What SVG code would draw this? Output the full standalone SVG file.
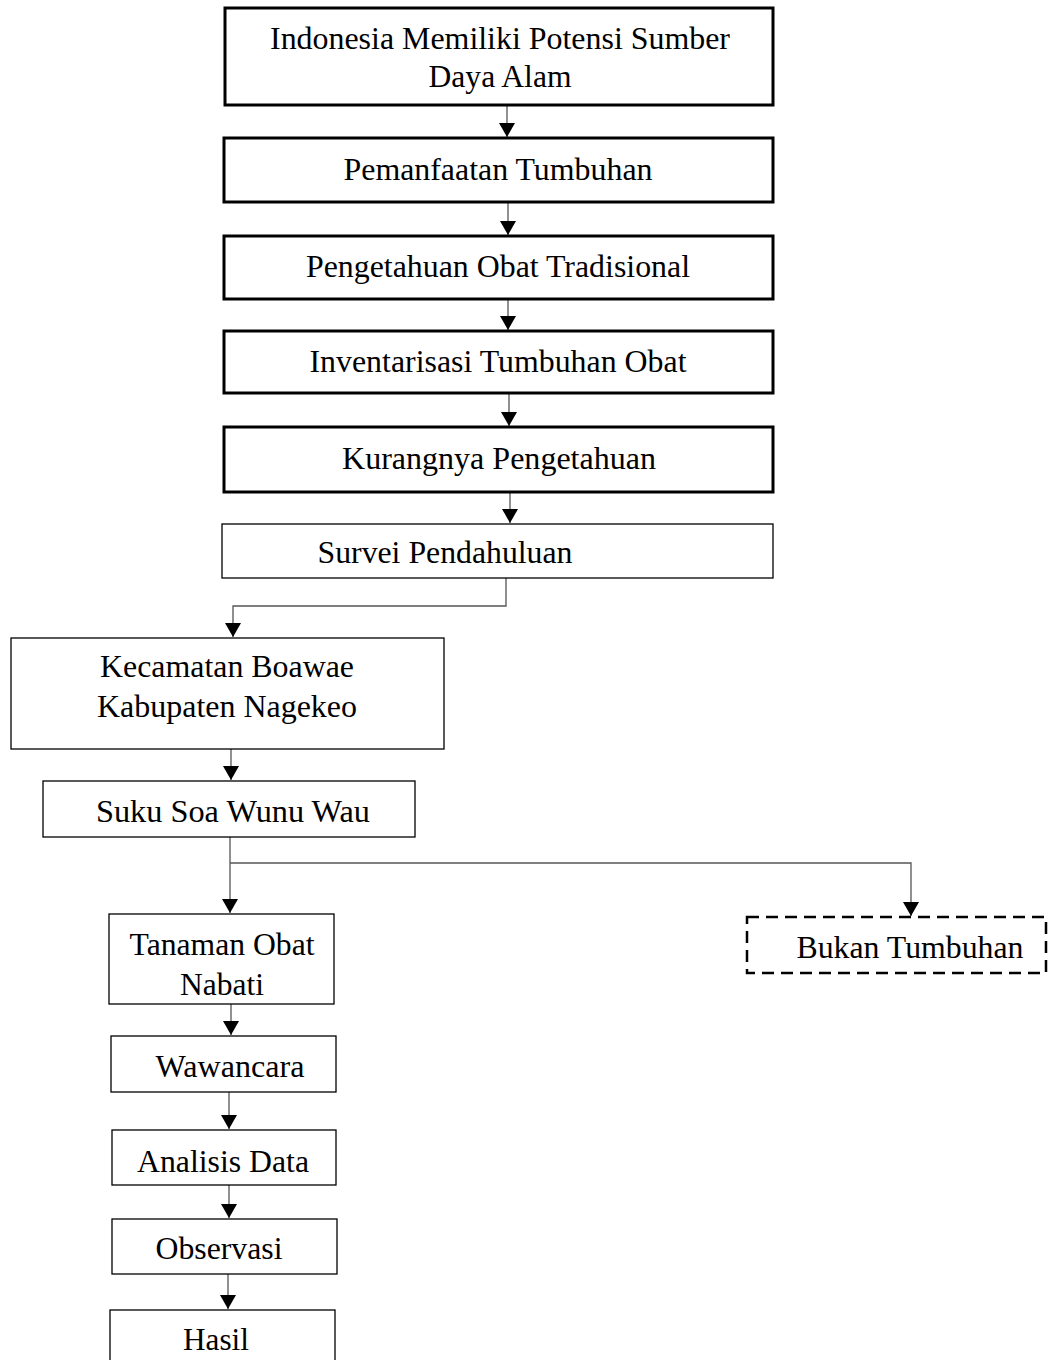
<svg xmlns="http://www.w3.org/2000/svg" width="1051" height="1360" viewBox="0 0 1051 1360">
<defs>
<style>
.t{font-family:"Liberation Serif","Times New Roman",serif;font-size:31px;fill:#000}
.bx{fill:#fff;stroke:#000;stroke-width:1.3}
.bt{fill:#fff;stroke:#000;stroke-width:3}
.dash{fill:#fff;stroke:#000;stroke-width:2.5;stroke-dasharray:12 7}
.c{fill:none;stroke:#555;stroke-width:1.3}
</style>
<marker id="ah" viewBox="0 0 14 16" refX="14" refY="8" markerWidth="14" markerHeight="16" markerUnits="userSpaceOnUse" orient="auto">
<path d="M0,0 L14,8 L0,16 Z" fill="#000"/>
</marker>
</defs>
<rect width="1051" height="1360" fill="#fff"/>
<g id="connectors">
<path class="c" d="M507,105 V137" marker-end="url(#ah)"/>
<path class="c" d="M508,202 V235" marker-end="url(#ah)"/>
<path class="c" d="M508,299 V330" marker-end="url(#ah)"/>
<path class="c" d="M509,393 V426" marker-end="url(#ah)"/>
<path class="c" d="M510,492 V523" marker-end="url(#ah)"/>
<path class="c" d="M506,578 V606 H233 V637" marker-end="url(#ah)"/>
<path class="c" d="M231,749 V780" marker-end="url(#ah)"/>
<path class="c" d="M230,837 V913" marker-end="url(#ah)"/>
<path class="c" d="M230,863 H911 V916" marker-end="url(#ah)"/>
<path class="c" d="M231,1004 V1035" marker-end="url(#ah)"/>
<path class="c" d="M229,1092 V1129" marker-end="url(#ah)"/>
<path class="c" d="M229,1185 V1218" marker-end="url(#ah)"/>
<path class="c" d="M228,1274 V1309" marker-end="url(#ah)"/>
</g>
<g id="n1"><rect class="bt" x="225" y="8" width="548" height="97"/>
<text class="t" x="500" y="49" text-anchor="middle" textLength="460" lengthAdjust="spacingAndGlyphs">Indonesia Memiliki Potensi Sumber</text>
<text class="t" x="500" y="87" text-anchor="middle" textLength="143" lengthAdjust="spacingAndGlyphs">Daya Alam</text></g>
<g id="n2"><rect class="bt" x="224" y="138" width="549" height="64"/>
<text class="t" x="498" y="180" text-anchor="middle" textLength="309" lengthAdjust="spacingAndGlyphs">Pemanfaatan Tumbuhan</text></g>
<g id="n3"><rect class="bt" x="224" y="236" width="549" height="63"/>
<text class="t" x="498" y="277" text-anchor="middle" textLength="384" lengthAdjust="spacingAndGlyphs">Pengetahuan Obat Tradisional</text></g>
<g id="n4"><rect class="bt" x="224" y="331" width="549" height="62"/>
<text class="t" x="498" y="372" text-anchor="middle" textLength="377" lengthAdjust="spacingAndGlyphs">Inventarisasi Tumbuhan Obat</text></g>
<g id="n5"><rect class="bt" x="224" y="427" width="549" height="65"/>
<text class="t" x="499" y="469" text-anchor="middle" textLength="314" lengthAdjust="spacingAndGlyphs">Kurangnya Pengetahuan</text></g>
<g id="n6"><rect class="bx" x="222" y="524" width="551" height="54"/>
<text class="t" x="445" y="563" text-anchor="middle" textLength="255" lengthAdjust="spacingAndGlyphs">Survei Pendahuluan</text></g>
<g id="n7"><rect class="bx" x="11" y="638" width="433" height="111"/>
<text class="t" x="227" y="677" text-anchor="middle" textLength="254" lengthAdjust="spacingAndGlyphs">Kecamatan Boawae</text>
<text class="t" x="227" y="717" text-anchor="middle" textLength="260" lengthAdjust="spacingAndGlyphs">Kabupaten Nagekeo</text></g>
<g id="n8"><rect class="bx" x="43" y="781" width="372" height="56"/>
<text class="t" x="233" y="822" text-anchor="middle" textLength="274" lengthAdjust="spacingAndGlyphs">Suku Soa Wunu Wau</text></g>
<g id="n9"><rect class="bx" x="109" y="914" width="225" height="90"/>
<text class="t" x="222" y="955" text-anchor="middle" textLength="185" lengthAdjust="spacingAndGlyphs">Tanaman Obat</text>
<text class="t" x="222" y="995" text-anchor="middle" textLength="84" lengthAdjust="spacingAndGlyphs">Nabati</text></g>
<g id="n10"><rect class="dash" x="747" y="917" width="299" height="56"/>
<text class="t" x="910" y="958" text-anchor="middle" textLength="227" lengthAdjust="spacingAndGlyphs">Bukan Tumbuhan</text></g>
<g id="n11"><rect class="bx" x="111" y="1036" width="225" height="56"/>
<text class="t" x="230" y="1077" text-anchor="middle" textLength="149" lengthAdjust="spacingAndGlyphs">Wawancara</text></g>
<g id="n12"><rect class="bx" x="112" y="1130" width="224" height="55"/>
<text class="t" x="223" y="1172" text-anchor="middle" textLength="172" lengthAdjust="spacingAndGlyphs">Analisis Data</text></g>
<g id="n13"><rect class="bx" x="112" y="1219" width="225" height="55"/>
<text class="t" x="219" y="1259" text-anchor="middle" textLength="127" lengthAdjust="spacingAndGlyphs">Observasi</text></g>
<g id="n14"><rect class="bx" x="110" y="1310" width="225" height="60"/>
<text class="t" x="216" y="1350" text-anchor="middle" textLength="66" lengthAdjust="spacingAndGlyphs">Hasil</text></g>
</svg>
